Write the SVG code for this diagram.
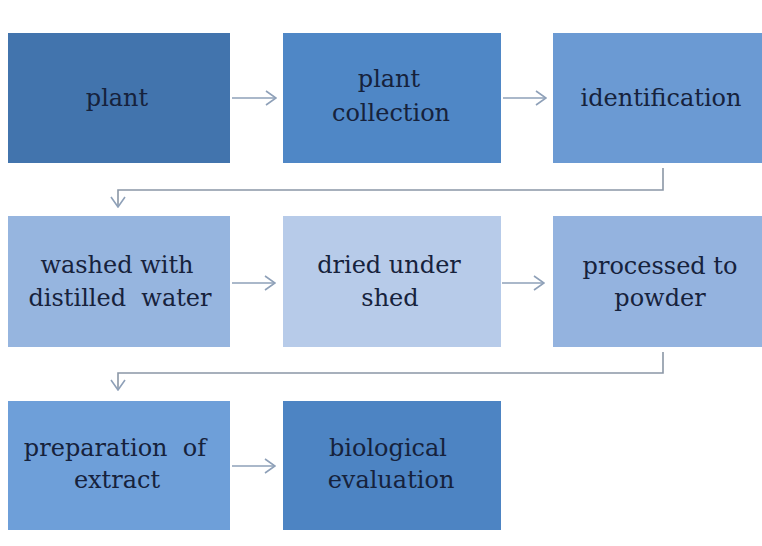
<svg xmlns="http://www.w3.org/2000/svg" width="762" height="546" viewBox="0 0 762 546">
<style>
.box{stroke:none}
.t{font-family:"DejaVu Serif","Liberation Serif",serif;font-size:24px;fill:#16223c;text-anchor:middle}
.c{fill:none;stroke:#8b97a6;stroke-width:1.6}
.a{fill:none;stroke:#8ea0b8;stroke-width:1.6}
</style>
<defs>
<marker id="ah" viewBox="0 0 12 16" refX="11" refY="8" markerWidth="12" markerHeight="16" markerUnits="userSpaceOnUse" orient="auto">
<path d="M1,1 L11,8 L1,15" fill="none" stroke="#8ea0b8" stroke-width="1.6"/>
</marker>
</defs>
<rect width="762" height="546" fill="#ffffff"/>
<g id="n1"><rect class="box" x="8" y="33" width="222" height="130" fill="#4274ad"/><text class="t" x="117" y="106">plant</text></g>
<g id="n2"><rect class="box" x="283" y="33" width="218" height="130" fill="#4f87c6"/><text class="t" x="389" y="87">plant</text><text class="t" x="391" y="121">collection</text></g>
<g id="n3"><rect class="box" x="553" y="33" width="209" height="130" fill="#6b9ad3"/><text class="t" x="661" y="106">identification</text></g>
<g id="n4"><rect class="box" x="8" y="216" width="222" height="131" fill="#96b5df"/><text class="t" x="117" y="273">washed with</text><text class="t" x="120" y="306">distilled&#160; water</text></g>
<g id="n5"><rect class="box" x="283" y="216" width="218" height="131" fill="#b7cbe9"/><text class="t" x="389" y="273">dried under</text><text class="t" x="390" y="306">shed</text></g>
<g id="n6"><rect class="box" x="553" y="216" width="209" height="131" fill="#94b3df"/><text class="t" x="660" y="274">processed to</text><text class="t" x="660" y="306">powder</text></g>
<g id="n7"><rect class="box" x="8" y="401" width="222" height="129" fill="#6e9fd9"/><text class="t" x="115" y="456">preparation&#160; of</text><text class="t" x="117" y="488">extract</text></g>
<g id="n8"><rect class="box" x="283" y="401" width="218" height="129" fill="#4d84c3"/><text class="t" x="388" y="456">biological</text><text class="t" x="391" y="488">evaluation</text></g>
<g id="connectors">
<line class="a" x1="232" y1="98" x2="276" y2="98" marker-end="url(#ah)"/>
<line class="a" x1="503" y1="98" x2="546" y2="98" marker-end="url(#ah)"/>
<polyline class="c" points="663,168 663,190 118,190 118,207" marker-end="url(#ah)"/>
<line class="a" x1="232" y1="283" x2="275" y2="283" marker-end="url(#ah)" stroke="#abb9ca"/>
<line class="a" x1="502" y1="283" x2="544" y2="283" marker-end="url(#ah)" stroke="#abb9ca"/>
<polyline class="c" points="663,352 663,373 118,373 118,390" marker-end="url(#ah)"/>
<line class="a" x1="232" y1="466" x2="275" y2="466" marker-end="url(#ah)"/>
</g>
</svg>
